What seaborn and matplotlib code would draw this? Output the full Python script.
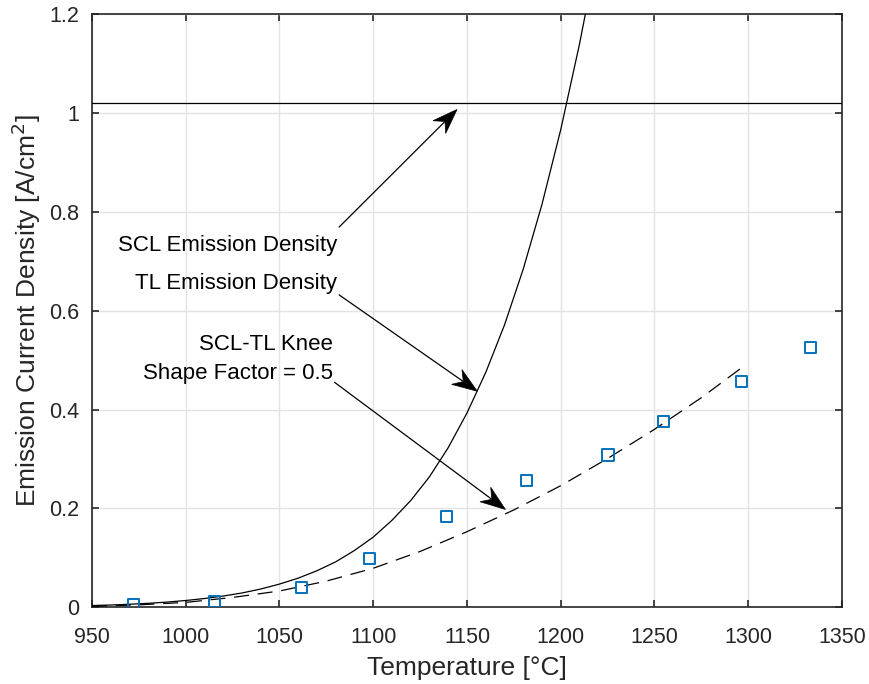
import matplotlib
matplotlib.use("Agg")
import matplotlib.pyplot as plt
from matplotlib.patches import Polygon
import numpy as np
import seaborn as sns
import pandas as pd

# Thermionic (TL) emission density, A/cm^2
tl_temp = [950, 960, 970, 980, 990, 1000, 1010, 1020, 1030, 1040, 1050, 1060,
           1070, 1080, 1090, 1100, 1110, 1120, 1130, 1140, 1150, 1160, 1170,
           1180, 1190, 1200, 1210, 1213.5]
tl_density = [0.0036, 0.0047, 0.0062, 0.0081, 0.0106, 0.0138, 0.0178, 0.0228,
              0.029, 0.037, 0.047, 0.059, 0.074, 0.092, 0.115, 0.142, 0.176,
              0.216, 0.264, 0.323, 0.393, 0.475, 0.571, 0.684, 0.815, 0.966,
              1.139, 1.207]

# SCL-TL knee curve (shape factor 0.5)
knee_temp = [950, 975, 1000, 1025, 1050, 1075, 1100, 1125, 1150, 1175, 1200,
             1225, 1250, 1275, 1297]
knee_density = [0.002, 0.005, 0.010, 0.020, 0.033, 0.053, 0.079, 0.113, 0.153,
                0.197, 0.246, 0.301, 0.360, 0.424, 0.486]

# Measured emission current density
meas_temp = [972.0, 1015.5, 1061.7, 1097.8, 1139.2, 1181.7, 1225.2, 1254.7,
             1296.3, 1333.0]
meas_density = [0.005, 0.011, 0.040, 0.099, 0.183, 0.257, 0.308, 0.376,
                0.456, 0.526]

# Space-charge-limited emission density
scl_density = 1.02

x_ticks = [950, 1000, 1050, 1100, 1150, 1200, 1250, 1300, 1350]
y_ticks = [0, 0.2, 0.4, 0.6, 0.8, 1.0, 1.2]
y_tick_labels = ["0", "0.2", "0.4", "0.6", "0.8", "1", "1.2"]

sns.set_theme(style="white")
plt.rcParams["font.family"] = ["Liberation Sans", "DejaVu Sans"]

ink = "#262626"
fig = plt.figure(figsize=(8.7, 6.84), dpi=100)
ax = fig.add_axes([0.1057, 0.1121, 0.8621, 0.8674])

tl_df = pd.DataFrame({"T": tl_temp, "J": tl_density})
knee_df = pd.DataFrame({"T": knee_temp, "J": knee_density})
meas_df = pd.DataFrame({"T": meas_temp, "J": meas_density})

ax.axhline(scl_density, color="black", lw=0.9, zorder=3)
sns.lineplot(data=tl_df, x="T", y="J", ax=ax, color="black", lw=0.9,
             sort=False, zorder=3)
sns.lineplot(data=knee_df, x="T", y="J", ax=ax, color="black", lw=0.9,
             linestyle=(0, (12, 7)), sort=False, zorder=3)
sns.scatterplot(data=meas_df, x="T", y="J", ax=ax, marker="s", s=64,
                facecolor="none", edgecolor="#0072BD", linewidth=1.4,
                zorder=4)

ax.set_xlim(950, 1350)
ax.set_ylim(0, 1.2)
ax.set_xticks(x_ticks)
ax.set_yticks(y_ticks)
ax.set_yticklabels(y_tick_labels)

ax.grid(True, color="#e3e3e3", lw=1.0)
ax.set_axisbelow(True)
for sp in ax.spines.values():
    sp.set_color(ink)
    sp.set_linewidth(1.2)
ax.tick_params(axis="both", which="both", direction="in", length=5, width=1.2,
               color=ink, labelcolor=ink, labelsize=15.5, top=True, right=True,
               bottom=True, left=True)
ax.tick_params(axis="x", pad=14)
ax.tick_params(axis="y", pad=9)

ax.set_xlabel("Temperature [°C]", fontsize=19, color=ink, labelpad=6)
ax.set_ylabel("Emission Current Density [A/cm$^2$]", fontsize=19, color=ink,
              labelpad=4.5)

txt = dict(fontsize=16, color="black", ha="right", va="baseline")
ax.text(1080.7, 0.720, "SCL Emission Density", **txt)
ax.text(1080.7, 0.644, "TL Emission Density", **txt)
ax.text(1078.3, 0.521, "SCL-TL Knee", **txt)
ax.text(1078.3, 0.461, "Shape Factor = 0.5", **txt)


def notched_arrow(tail, tip, length=25, half_width=9, notch=17):
    """Arrow with a swept-back filled head, sized in pixels."""
    p0 = ax.transData.transform(tail)
    p1 = ax.transData.transform(tip)
    u = (p1 - p0) / np.hypot(*(p1 - p0))
    n = np.array([-u[1], u[0]])
    head_px = np.array([p1,
                        p1 - length * u + half_width * n,
                        p1 - notch * u,
                        p1 - length * u - half_width * n])
    inv = ax.transData.inverted()
    head = inv.transform(head_px)
    shaft_end = inv.transform(p1 - (notch + 1) * u)
    ax.plot([tail[0], shaft_end[0]], [tail[1], shaft_end[1]], color="black",
            lw=0.9, zorder=5)
    ax.add_patch(Polygon(head, closed=True, facecolor="black",
                         edgecolor="black", lw=0.5, zorder=5))


notched_arrow((1081.8, 0.769), (1144.7, 1.007))
notched_arrow((1081.8, 0.632), (1155.5, 0.437))
notched_arrow((1079.4, 0.455), (1170.5, 0.198))

fig.savefig("out.png", dpi=100)
